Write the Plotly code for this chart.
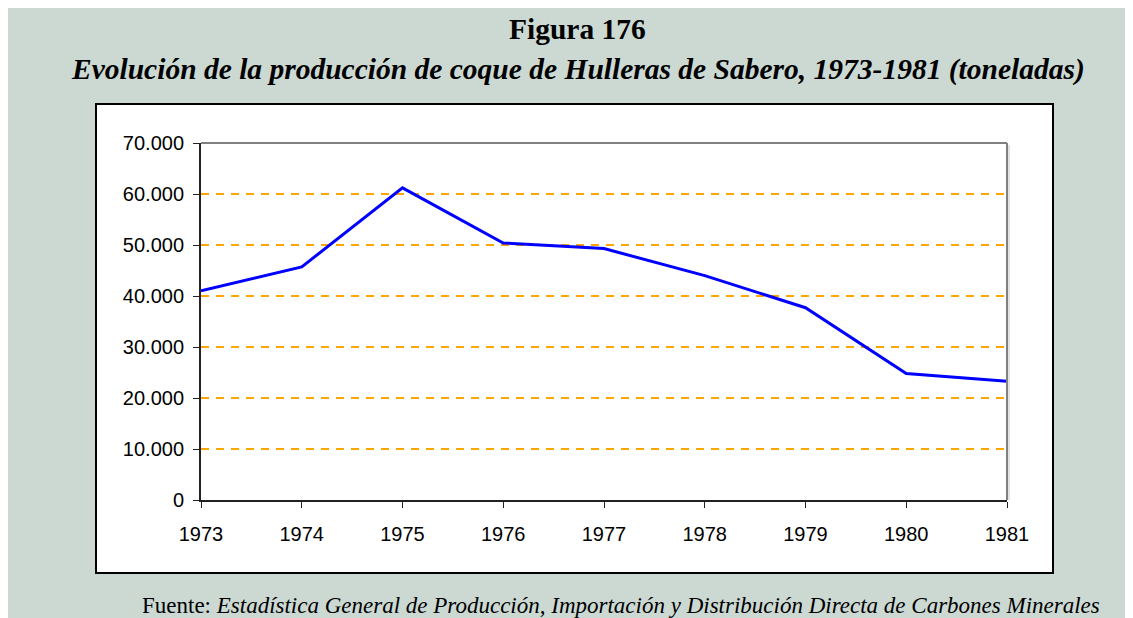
import plotly.graph_objects as go

years = [1973, 1974, 1975, 1976, 1977, 1978, 1979, 1980, 1981]
production = [41000, 45700, 61200, 50400, 49300, 44000, 37700, 24800, 23300]
y_ticks = [0, 10000, 20000, 30000, 40000, 50000, 60000, 70000]
y_labels = ["0", "10.000", "20.000", "30.000", "40.000", "50.000", "60.000", "70.000"]

# page body has an 8px margin: figure pixel = screen pixel - 8
OFF = 8
W, H = 1133 - OFF, 618 - OFF
L, R, T, B = 201 - OFF, 1007 - OFF, 143 - OFF, 500 - OFF

def px(x):
    return (x - OFF - L) / (R - L)

def py(y):
    return (B - (y - OFF)) / (B - T)

fig = go.Figure()
fig.add_trace(go.Scatter(x=years, y=production, mode="lines",
                         line=dict(color="#0000FF", width=3), showlegend=False,
                         hoverinfo="skip"))

shapes = [
    dict(type="rect", xref="paper", yref="paper", x0=px(0), x1=px(1145), y0=py(12), y1=py(630),
         fillcolor="#CCD9D3", line=dict(width=0), layer="below"),
    dict(type="rect", xref="paper", yref="paper", x0=px(96), x1=px(1053), y0=py(104), y1=py(573),
         fillcolor="#FFFFFF", line=dict(color="#000000", width=2), layer="below"),
    dict(type="line", xref="paper", yref="paper", x0=px(1009), x1=px(1009), y0=py(145), y1=py(500),
         line=dict(color="#C8C8C8", width=1)),
    dict(type="line", xref="paper", yref="paper", x0=0, x1=1, y0=1, y1=1,
         line=dict(color="#808080", width=2)),
    dict(type="line", xref="paper", yref="paper", x0=1, x1=1, y0=0, y1=1,
         line=dict(color="#808080", width=2)),
]

annotations = [
    dict(text="<b>Figura 176</b>", xref="paper", yref="paper", x=px(577), y=py(29),
         showarrow=False, xanchor="center", yanchor="middle",
         font=dict(family="Liberation Serif", size=29.5, color="#000")),
    dict(text="<b><i>Evolución de la producción de coque de Hulleras de Sabero, 1973-1981 (toneladas)</i></b>",
         xref="paper", yref="paper", x=px(578), y=py(69),
         showarrow=False, xanchor="center", yanchor="middle",
         font=dict(family="Liberation Serif", size=29.5, color="#000")),
    dict(text="Fuente: <i>Estadística General de Producción, Importación y Distribución Directa de Carbones Minerales</i>",
         xref="paper", yref="paper", x=px(140), y=py(605),
         showarrow=False, xanchor="left", yanchor="middle",
         font=dict(family="Liberation Serif", size=23, color="#000")),
]

fig.update_layout(
    width=W, height=H,
    margin=dict(l=L, r=W - R, t=T, b=H - B, pad=0),
    paper_bgcolor="#CCD9D3", plot_bgcolor="rgba(0,0,0,0)",
    shapes=shapes, annotations=annotations,
    font=dict(family="Liberation Sans", size=20, color="#000"),
)
fig.update_xaxes(range=[1973, 1981], tickmode="array", tickvals=years,
                 ticktext=[str(y) for y in years], showgrid=False, zeroline=False,
                 showline=True, linecolor="#222222", linewidth=2,
                 ticks="outside", ticklen=6, tickcolor="#222222", tickwidth=1,
                 ticklabelstandoff=9, tickfont=dict(size=20))
fig.update_yaxes(range=[0, 70000], tickmode="array", tickvals=y_ticks, ticktext=y_labels,
                 showgrid=True, gridcolor="#FFA500", gridwidth=2, griddash="8px,7px",
                 zeroline=False, showline=True, linecolor="#222222", linewidth=2,
                 ticks="outside", ticklen=6, tickcolor="#222222", tickwidth=1,
                 ticklabelstandoff=5, tickfont=dict(size=20))

fig.write_html("out.html")
